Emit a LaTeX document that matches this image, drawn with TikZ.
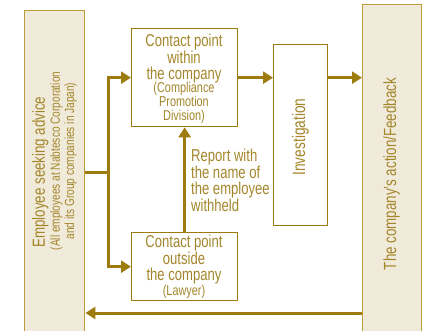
\documentclass[tikz,border=0pt]{standalone}
\usepackage{fontspec}
\setmainfont{Liberation Sans}[FakeStretch=0.76]
\usetikzlibrary{arrows.meta,calc}

\definecolor{gold}{HTML}{9E7B0F}
\definecolor{goldtext}{HTML}{A4862A}
\definecolor{goldedge}{HTML}{BE9C3E}
\definecolor{beige}{HTML}{F0EADB}

% text nodes are placed by the baseline of their last line
\tikzset{
  x=1pt, y=-1pt,
  sidebox/.style={draw=goldedge, fill=beige, line width=1.4pt, inner sep=0pt, anchor=north west},
  stepbox/.style={draw=gold, fill=white, line width=1.3pt, inner sep=0pt, anchor=north west},
  txt/.style={text=goldtext, align=center, inner sep=0pt, anchor=base},
  bigtxt/.style={font=\fontsize{17.2}{16.5}\selectfont},
  smalltxt/.style={font=\fontsize{14.3}{13.8}\selectfont},
  flow/.style={draw=gold, line width=3pt, -{Triangle[length=10pt,width=12pt]}},
  plain/.style={draw=gold, line width=3pt},
}

\begin{document}
\begin{tikzpicture}
\useasboundingbox (0,0) rectangle (437,330);
\clip (0,0) rectangle (437,330);

% side panels
\node[sidebox, minimum width=60pt, minimum height=340pt] (emp) at (24,10) {};
\node[sidebox, minimum width=59pt, minimum height=340pt] (fb) at (362,4) {};

% step boxes
\node[stepbox, minimum width=106pt, minimum height=98pt] (within) at (131,28) {};
\node[stepbox, minimum width=106pt, minimum height=68pt] (outside) at (131,232) {};
\node[stepbox, minimum width=54pt, minimum height=181pt] (inv) at (273,44) {};

% side panel texts (read bottom to top)
\node[txt, rotate=90, font=\fontsize{17.5}{17.5}\selectfont] (empA) at (45,172) {Employee seeking advice};
\node[txt, rotate=90, font=\fontsize{13.3}{14}\selectfont] (empB) at (74,161)
  {(All employees at Nabtesco Corporation\\and its Group companies in Japan)};
\node[txt, rotate=90, font=\fontsize{17.6}{17.6}\selectfont] (fbt) at (396,174) {The company's action/Feedback};
\node[txt, rotate=90, font=\fontsize{18}{18}\selectfont] (invt) at (305,137) {Investigation};

% step box texts
\node[txt, bigtxt] (withA) at (184,79.5) {Contact point\\within\\the company};
\node[txt, smalltxt] (withB) at (184,120.5) {(Compliance\\Promotion\\Division)};
\node[txt, bigtxt] (outA) at (184,280.5) {Contact point\\outside\\the company};
\node[txt, smalltxt] (outB) at (184,295.5) {(Lawyer)};
\node[txt, align=left, anchor=base west, font=\fontsize{17.2}{15.5}\selectfont] (note) at (191,211.5)
  {Report with\\the name of\\the employee\\withheld};

% connectors
\coordinate (split) at (108,172);
\draw[plain] (emp.east |- split) -- (split);
\draw[flow] (split) |- (within.west);
\draw[flow] (split) |- (outside.west);
\draw[flow] (outside.north) -- (within.south);
\draw[flow] (within.east) -- (within.east -| inv.west);
\draw[flow] (inv.east |- within.east) -- (within.east -| fb.west);
\coordinate (back) at (fb.west |- 0,313);
\draw[flow] (back) -- (back -| emp.east);
\end{tikzpicture}
\end{document}
